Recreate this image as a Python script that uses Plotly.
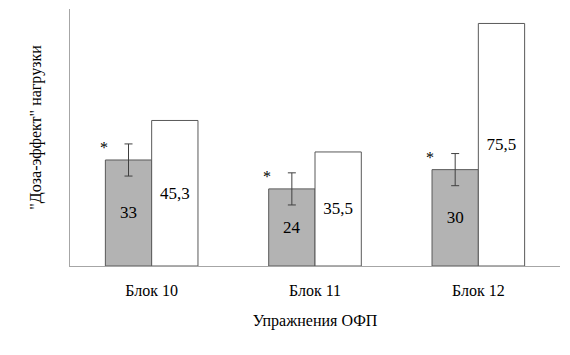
import plotly.graph_objects as go

categories = ["Блок 10", "Блок 11", "Блок 12"]
series_grey = [33, 24, 30]
series_white = [45.3, 35.5, 75.5]
grey_labels = ["33", "24", "30"]
white_labels = ["45,3", "35,5", "75,5"]
grey_err = [5, 5, 5]
y_title = '"Доза-эффект" нагрузки'
x_title = "Упражнения ОФП"

FONT = "'Liberation Serif', 'Times New Roman', 'DejaVu Serif', serif"
EDGE = "#595959"
LABEL_FONT = dict(family=FONT, size=17, color="black")

fig = go.Figure()
fig.add_trace(go.Bar(
    x=categories, y=series_grey, text=grey_labels,
    textposition="inside", insidetextanchor="middle",
    textfont=LABEL_FONT, insidetextfont=LABEL_FONT,
    marker=dict(color="#b3b3b3", line=dict(color=EDGE, width=1)),
    error_y=dict(type="data", array=grey_err, color="#404040", thickness=1, width=4),
    showlegend=False,
))
fig.add_trace(go.Bar(
    x=categories, y=series_white, text=white_labels,
    textposition="inside", insidetextanchor="middle",
    textfont=LABEL_FONT, insidetextfont=LABEL_FONT,
    marker=dict(color="white", line=dict(color=EDGE, width=1)),
    showlegend=False,
))

for c, v, e in zip(categories, series_grey, grey_err):
    fig.add_annotation(x=c, y=v + e, text="*", showarrow=False,
                       xshift=-48, yshift=-4, yanchor="middle",
                       font=dict(family=FONT, size=16, color="black"))

fig.add_annotation(x=-0.069, y=0.539, xref="paper", yref="paper", text=y_title,
                   showarrow=False, textangle=-90, xanchor="center", yanchor="middle",
                   font=dict(family=FONT, size=16, color="black"))

fig.update_layout(
    width=570, height=355, autosize=False,
    margin=dict(l=70, r=10, t=9, b=89, autoexpand=False),
    paper_bgcolor="white", plot_bgcolor="white",
    barmode="group", bargap=0.433, bargroupgap=0,
    font=dict(family=FONT, size=16, color="black"),
    xaxis=dict(showline=True, linecolor="#a6a6a6", linewidth=1,
               ticks="outside", ticklen=10, tickcolor="rgba(0,0,0,0)",
               tickfont=dict(family=FONT, size=16, color="black"),
               title=dict(text=x_title, font=dict(family=FONT, size=16, color="black"), standoff=16)),
    yaxis=dict(range=[0, 80], showline=True, linecolor="#a6a6a6", linewidth=1,
               showgrid=False, zeroline=False, showticklabels=False, ticks=""),
)
fig.write_html("out.html", config={"displayModeBar": False},
               post_script="document.body.style.margin='0';")
